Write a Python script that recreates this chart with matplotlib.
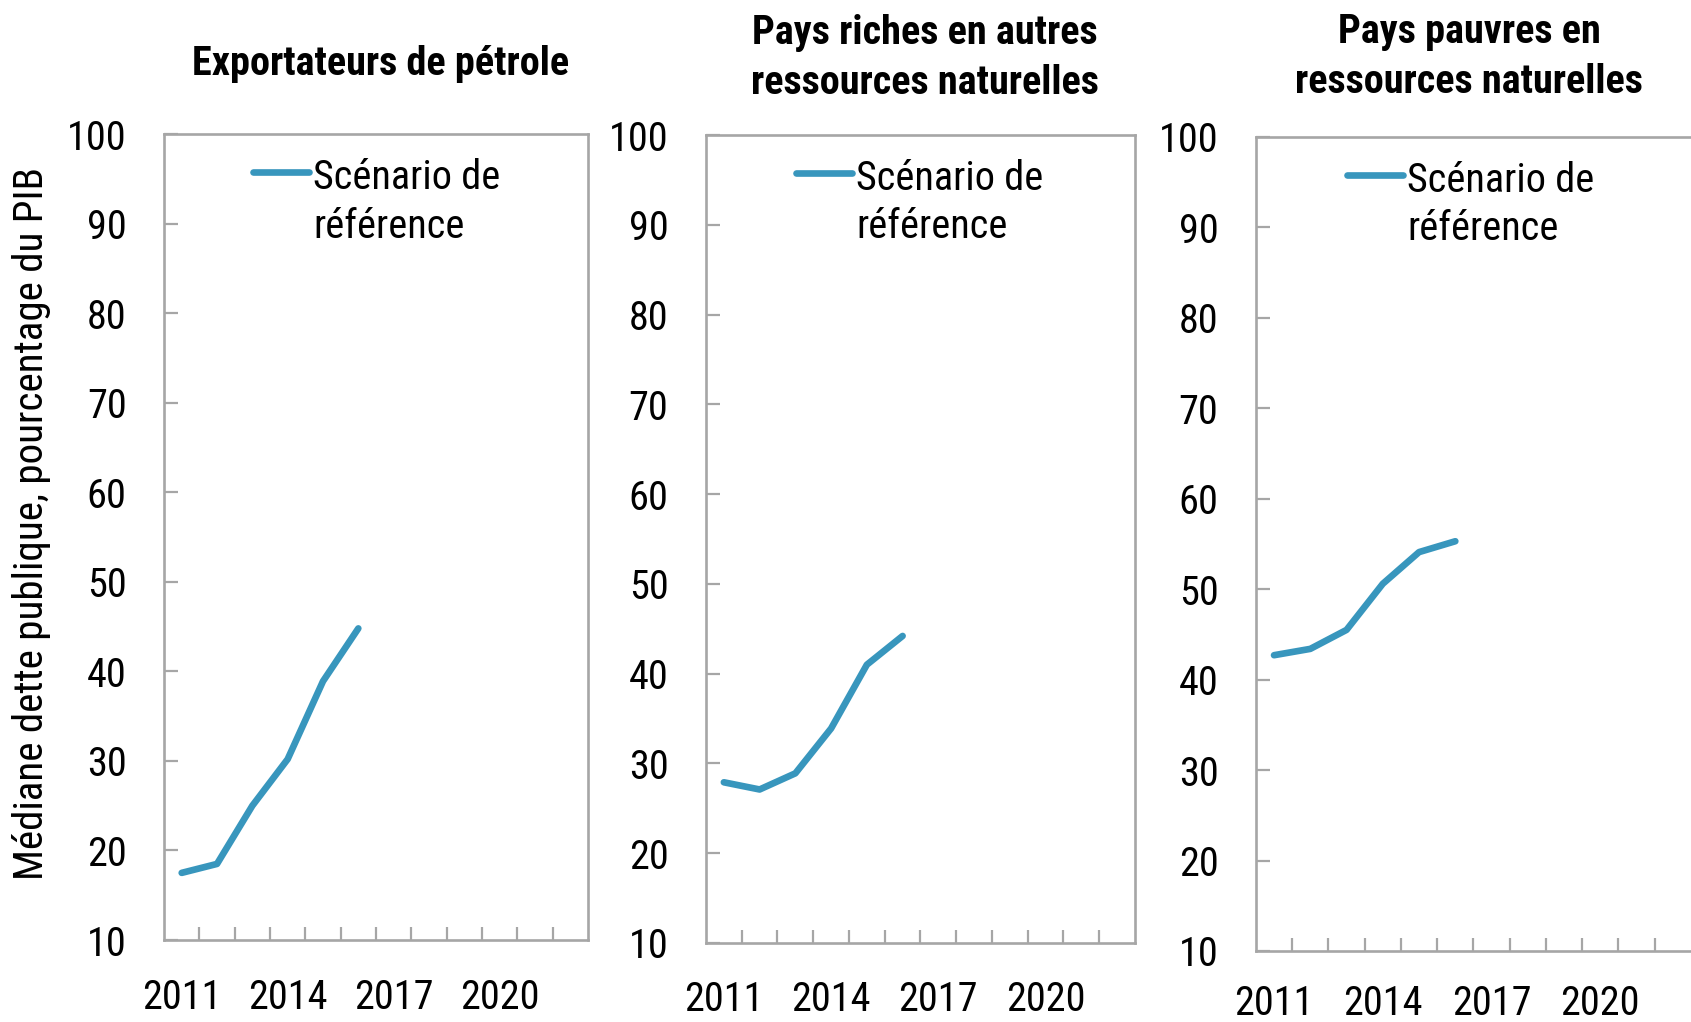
import matplotlib
matplotlib.use("Agg")
import matplotlib.pyplot as plt
from matplotlib import font_manager

# data
years = list(range(2011, 2023))
titles = ["Exportateurs de pétrole",
          "Pays riches en autres\nressources naturelles",
          "Pays pauvres en\nressources naturelles"]
oil = [17.5, 18.5, 25.0, 30.2, 38.9, 44.8]
rich = [27.9, 27.1, 28.9, 33.9, 41.0, 44.2]
poor = [42.7, 43.4, 45.5, 50.6, 54.1, 55.3]
series = [oil, rich, poor]
legend_label = "Scénario de\nréférence"
ylabel = "Médiane dette publique, pourcentage du PIB"
yticks = [10, 20, 30, 40, 50, 60, 70, 80, 90, 100]
label_years = [2011, 2014, 2017, 2020]

# pick a narrow font if there is one
family = "DejaVu Sans"
for name in ["Liberation Sans Narrow", "Roboto Condensed", "Archivo Narrow",
             "Asap Condensed"]:
    try:
        font_manager.findfont(name, fallback_to_default=False)
        family = name
        break
    except Exception:
        pass
plt.rcParams["font.family"] = [family, "DejaVu Sans"]

line_color = "#3896bd"
spine_color = "#a6a6a6"
fs = 29

fig = plt.figure(figsize=(16.91, 10.22), dpi=100)

# axes rectangles [left, bottom, width, height] in figure fractions
boxes = [[0.097, 0.0802, 0.2507, 0.7886],
         [0.4175, 0.0773, 0.2537, 0.7906],
         [0.7427, 0.0695, 0.2573, 0.7965]]
xpads = [27, 27, 24]
title_x = [381 / 1691, 925 / 1691, 1469 / 1691]
title_y = [1 - 64 / 1022, 1 - 58 / 1022, 1 - 57 / 1022]

for i in range(3):
    ax = fig.add_axes(boxes[i])
    xs = list(range(len(series[i])))
    ax.plot(xs, series[i], color=line_color, lw=4.8,
            solid_capstyle="round", solid_joinstyle="round", label=legend_label)
    ax.set_xlim(-0.5, len(years) - 0.5)
    ax.set_ylim(10, 100)
    ax.set_yticks(yticks)
    ax.set_yticklabels([str(v) for v in yticks])
    ax.set_xticks([years.index(y) for y in label_years])
    ax.set_xticklabels([str(y) for y in label_years])
    ax.set_xticks([k + 0.5 for k in range(len(years) - 1)], minor=True)
    ax.tick_params(axis="x", which="major", length=0, pad=xpads[i], labelsize=fs)
    ax.tick_params(axis="x", which="minor", direction="in", length=9.5,
                   width=1.6, color=spine_color)
    ax.tick_params(axis="y", direction="in", length=10, width=1.6,
                   color=spine_color, pad=27, labelsize=fs)
    for side, sp in ax.spines.items():
        sp.set_color(spine_color)
        sp.set_linewidth(1.9)
    if i == 2:
        ax.spines["right"].set_visible(False)

    leg = ax.legend(loc="upper left", bbox_to_anchor=(0.172, 0.99),
                    frameon=False, fontsize=fs, handlelength=1.4,
                    handletextpad=0.1, borderaxespad=0)
    for t in leg.get_texts():
        t.set_linespacing(1.3)
    # keep the handle level with the first line of the label
    for col in leg._legend_handle_box.get_children():
        for item in col.get_children():
            item.align = "top"
    for h in leg.get_lines():
        h.set_solid_capstyle("round")

    fig.text(title_x[i], title_y[i], titles[i], ha="center", va="center",
             fontsize=fs, fontweight="bold", linespacing=1.38)

fig.text(32 / 1691, 1 - 524 / 1022, ylabel, rotation=90, ha="center",
         va="center", fontsize=29.5)

fig.savefig("out.png", dpi=100)
